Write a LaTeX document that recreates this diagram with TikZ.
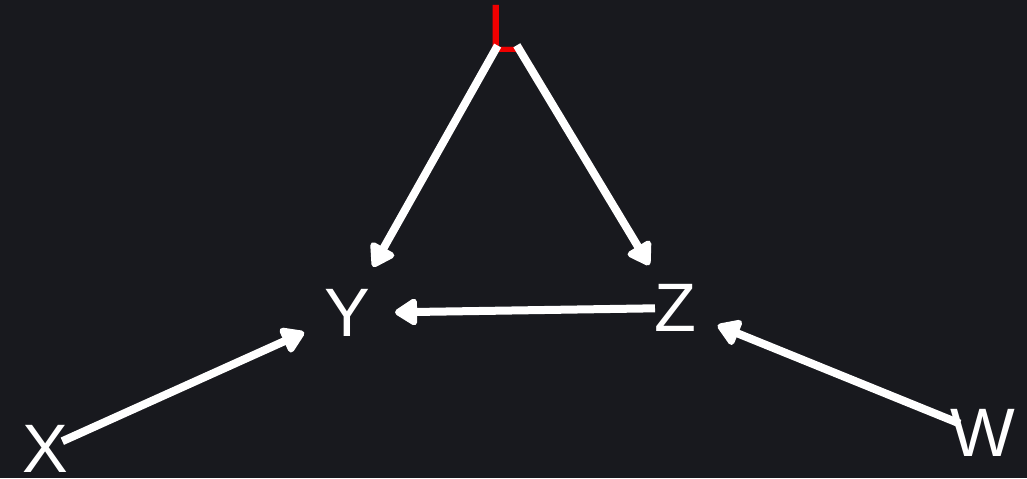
\documentclass[tikz,border=0pt]{standalone}
\usepackage{fontspec}
\setmainfont{Liberation Sans}
\usetikzlibrary{arrows.meta}
\definecolor{bgdark}{RGB}{24,25,30}
\definecolor{lred}{RGB}{240,0,0}
\tikzset{
  var/.style={text=white, inner sep=0pt, font=\fontsize{19.5}{19.5}\selectfont},
  arr/.style={-{Triangle[length=0.25cm,width=0.30cm,round]}, line width=0.08cm, white},
}

\begin{document}
\begin{tikzpicture}[x=0.01cm,y=-0.01cm]
    % background
    \fill[bgdark] (0,0) rectangle (1027,478);
    \useasboundingbox (0,0) rectangle (1027,478);
    % variables
    \node[var, text=lred] (L) at (507,29) {L};
    \node[var] (Y) at (347,313) {Y};
    \node[var] (Z) at (675,308) {Z};
    \node[var] (X) at (45,449) {X};
    \node[var] (W) at (983,433) {W};
    % arrows
    \draw[arr, shorten <=0.19cm, shorten >=0.53cm] (L.center) -- (Y.center);
    \draw[arr, shorten <=0.19cm, shorten >=0.50cm] (L.center) -- (Z.center);
    \draw[arr, shorten <=0.20cm, shorten >=0.48cm] (Z.center) -- (Y.center);
    \draw[arr, shorten <=0.19cm, shorten >=0.47cm] (X.center) -- (Y.center);
    \draw[arr, shorten <=0.25cm, shorten >=0.46cm] (W.center) -- (Z.center);
\end{tikzpicture}
\end{document}
